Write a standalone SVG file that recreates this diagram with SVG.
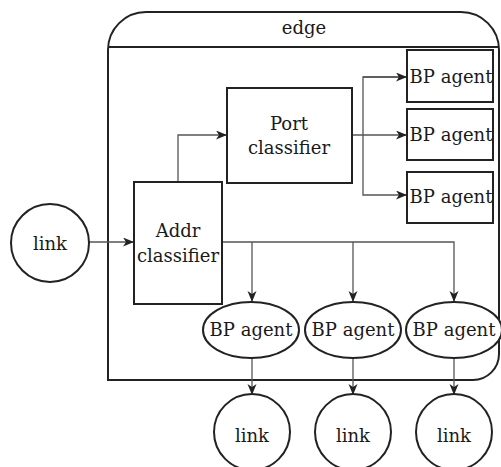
<svg xmlns="http://www.w3.org/2000/svg" width="501" height="467" viewBox="0 0 501 467">
<style>
.box{fill:#fff;stroke:#222;stroke-width:2}
.con{fill:none;stroke:#555;stroke-width:1.3}
text{font-family:"DejaVu Serif","Liberation Serif",serif;font-size:18px;fill:#1a1a1a;text-anchor:middle}
</style>
<defs>
<marker id="ah" markerUnits="userSpaceOnUse" markerWidth="12" markerHeight="10" refX="11" refY="4.5" orient="auto">
<path d="M0,0 L11,4.5 L0,9 L3,4.5 Z" fill="#222"/>
</marker>
</defs>
<rect width="501" height="467" fill="#fff"/>
<g id="edge">
<path class="box" d="M108,380 V50 A38,38 0 0 1 146,12 H461 A38,38 0 0 1 499,50 V354 A26,26 0 0 1 473,380 Z"/>
<line x1="108" y1="47" x2="499" y2="47" stroke="#222" stroke-width="2"/>
<text x="304" y="34">edge</text>
</g>
<g id="connectors">
<line class="con" x1="89" y1="242" x2="134" y2="242" marker-end="url(#ah)"/>
<polyline class="con" points="178,182 178,135 227,135" marker-end="url(#ah)"/>
<line class="con" x1="352" y1="135" x2="407" y2="135" marker-end="url(#ah)"/>
<polyline class="con" points="407,77 363,77 363,195 407,195" marker-end="url(#ah)"/>
<line class="con" x1="363" y1="77" x2="407" y2="77" marker-end="url(#ah)"/>
<polyline class="con" points="222,242 454,242 454,302" marker-end="url(#ah)"/>
<line class="con" x1="252" y1="242" x2="252" y2="302" marker-end="url(#ah)"/>
<line class="con" x1="353" y1="242" x2="353" y2="302" marker-end="url(#ah)"/>
<line class="con" x1="252" y1="358" x2="252" y2="395" marker-end="url(#ah)"/>
<line class="con" x1="353" y1="358" x2="353" y2="395" marker-end="url(#ah)"/>
<line class="con" x1="454" y1="358" x2="454" y2="395" marker-end="url(#ah)"/>
</g>
<g id="link-in"><circle class="box" cx="50" cy="243" r="39"/><text x="50" y="250">link</text></g>
<g id="addr"><rect class="box" x="134" y="182" width="88" height="122"/><text x="178" y="237">Addr</text><text x="178" y="262">classifier</text></g>
<g id="port"><rect class="box" x="227" y="88" width="125" height="95"/><text x="289" y="130">Port</text><text x="289" y="154">classifier</text></g>
<g id="bp-r1"><rect class="box" x="407" y="50" width="86" height="52"/><text x="451" y="83">BP agent</text></g>
<g id="bp-r2"><rect class="box" x="407" y="109" width="86" height="51"/><text x="451" y="141">BP agent</text></g>
<g id="bp-r3"><rect class="box" x="407" y="172" width="86" height="51"/><text x="451" y="203">BP agent</text></g>
<g id="bp-e1"><ellipse class="box" cx="251" cy="330" rx="48" ry="28"/><text x="251" y="336">BP agent</text></g>
<g id="bp-e2"><ellipse class="box" cx="353" cy="330" rx="48" ry="28"/><text x="353" y="336">BP agent</text></g>
<g id="bp-e3"><ellipse class="box" cx="454" cy="330" rx="48" ry="28"/><text x="454" y="336">BP agent</text></g>
<g id="link1"><circle class="box" cx="252" cy="432" r="38"/><text x="252" y="442">link</text></g>
<g id="link2"><circle class="box" cx="353" cy="432" r="38"/><text x="353" y="442">link</text></g>
<g id="link3"><circle class="box" cx="454" cy="432" r="38"/><text x="454" y="442">link</text></g>
</svg>
